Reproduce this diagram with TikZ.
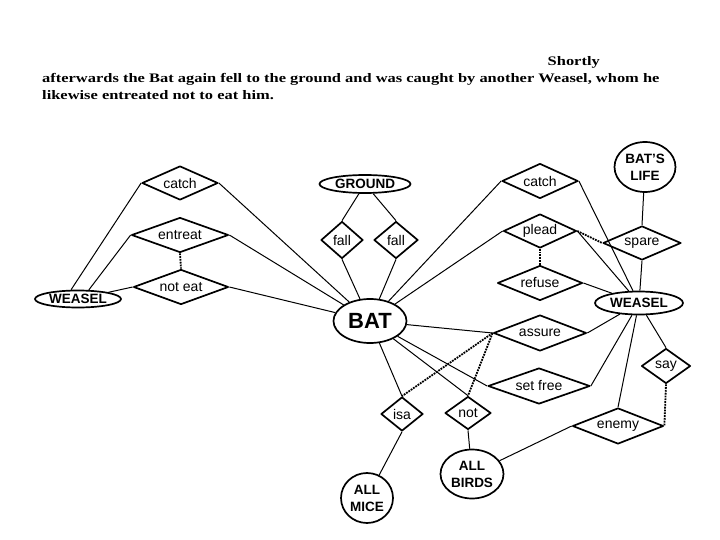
\documentclass[tikz,border=0pt]{standalone}
\usepackage{fontspec}
\usetikzlibrary{shapes.geometric}
\newfontfamily\erfont{Liberation Sans}
\newfontfamily\storyfont{Liberation Serif}[FakeStretch=1.265]

\begin{document}
\begin{tikzpicture}[
  x=1pt,
  y=-1pt,
  line join=round,
  relation/.style={diamond,draw=black,line width=1.7pt,inner sep=0pt,aspect=2.6,
    font=\erfont\fontsize{14}{14}\selectfont},
  smallrel/.style={relation,aspect=1.2},
  entity/.style={ellipse,draw=black,line width=1.7pt,inner sep=0pt,align=center,
    font=\erfont\bfseries\fontsize{13.5}{17}\selectfont},
  link/.style={draw=black,line width=1pt},
  hint/.style={draw=black,line width=1.8pt,densely dotted},
  story/.style={inner sep=0pt,font=\storyfont\bfseries\fontsize{13}{13}\selectfont}
]
  \useasboundingbox (0,0) rectangle (720,540);

  % Fable text above the network.
  \node[story,anchor=base east] (line0) at (600,66) {Shortly};
  \node[story,anchor=base west] (line1) at (42,83) {afterwards the Bat again fell to the ground and was caught by another Weasel, whom he};
  \node[story,anchor=base west] (line2) at (42,100) {likewise entreated not to eat him.};

  % Entities.
  \node[entity,minimum width=73pt,minimum height=44pt,font=\erfont\bfseries\fontsize{22}{22}\selectfont] (bat) at (370,321) {BAT};
  \node[entity,minimum width=86pt,minimum height=17pt] (weaselL) at (78,299) {WEASEL};
  \node[entity,minimum width=88pt,minimum height=23pt] (weaselR) at (639,303) {WEASEL};
  \node[entity,minimum width=91pt,minimum height=18pt] (ground) at (365,184) {GROUND};
  \node[entity,minimum width=61pt,minimum height=50pt] (life) at (645,167) {BAT’S\\LIFE};
  \node[entity,minimum width=52pt,minimum height=50pt] (mice) at (367,498) {ALL\\MICE};
  \node[entity,minimum width=63pt,minimum height=49pt] (birds) at (472,474) {ALL\\BIRDS};

  % Relations.
  \node[relation,minimum width=76pt,minimum height=34pt] (catchL) at (180,183) {catch};
  \node[relation,minimum width=97pt,minimum height=35pt] (entreat) at (180,235) {entreat};
  \node[relation,minimum width=95pt,minimum height=35pt] (noteat) at (181,287) {not eat};
  \node[smallrel,minimum width=42pt,minimum height=37pt] (fallA) at (342,240) {fall};
  \node[smallrel,minimum width=44pt,minimum height=37pt] (fallB) at (396,240) {fall};
  \node[relation,minimum width=76pt,minimum height=35pt] (catchR) at (540,181) {catch};
  \node[relation,minimum width=73pt,minimum height=34pt] (plead) at (540,231) {plead};
  \node[relation,minimum width=78pt,minimum height=34pt] (spare) at (642,243) {spare};
  \node[relation,minimum width=85pt,minimum height=35pt] (refuse) at (540,283) {refuse};
  \node[relation,minimum width=93pt,minimum height=36pt] (assure) at (540,333) {assure};
  \node[relation,minimum width=102pt,minimum height=36pt] (setfree) at (539,386) {set free};
  \node[smallrel,minimum width=49pt,minimum height=35pt] (say) at (666,366) {say};
  \node[smallrel,minimum width=42pt,minimum height=34pt] (isa) at (402,414) {isa};
  \node[smallrel,minimum width=46pt,minimum height=33pt] (not) at (468,413) {not};
  \node[relation,minimum width=91pt,minimum height=36pt] (enemy) at (618,426) {enemy};

  % Left weasel and its relations to the bat.
  \draw[link] (weaselL.127) -- (catchL.west);
  \draw[link] (weaselL.40) -- (entreat.west);
  \draw[link] (weaselL) -- (noteat.west);
  \draw[link] (catchL.east) -- (bat);
  \draw[link] (entreat.east) -- (bat);
  \draw[link] (noteat.east) -- (bat);

  % The two falls to the ground.
  \draw[link] (ground) -- (fallA.north);
  \draw[link] (ground) -- (fallB.north);
  \draw[link] (fallA.south) -- (bat);
  \draw[link] (fallB.south) -- (bat);

  % Right weasel.
  \draw[link] (bat) -- (catchR.west);
  \draw[link] (bat) -- (plead.west);
  \draw[link] (catchR.east) -- (weaselR);
  \draw[link] (plead.east) -- (weaselR);
  \draw[link] (refuse.east) -- (weaselR);
  \draw[link] (life) -- (spare.north);
  \draw[link] (spare.south) -- (weaselR);
  \draw[link] (bat) -- (assure.west);
  \draw[link] (assure.east) -- (weaselR);
  \draw[link] (bat) -- (setfree.west);
  \draw[link] (setfree.east) -- (weaselR);
  \draw[link] (weaselR) -- (say.north);
  \draw[link] (weaselR) -- (enemy.north);

  % Mouse or bird.
  \draw[link] (bat) -- (isa.north);
  \draw[link] (bat) -- (not.north);
  \draw[link] (isa.south) -- (mice);
  \draw[link] (not.south) -- (birds);
  \draw[link] (birds) -- (enemy.west);

  % Dotted links between linked statements.
  \draw[hint] (entreat.south) -- (noteat.north);
  \draw[hint] (plead.south) -- (refuse.north);
  \draw[hint] (plead.east) -- (spare.west);
  \draw[hint] (assure.west) -- (isa.north);
  \draw[hint] (assure.west) -- (not.north);
  \draw[hint] (say.south) -- (enemy.east);
\end{tikzpicture}
\end{document}
